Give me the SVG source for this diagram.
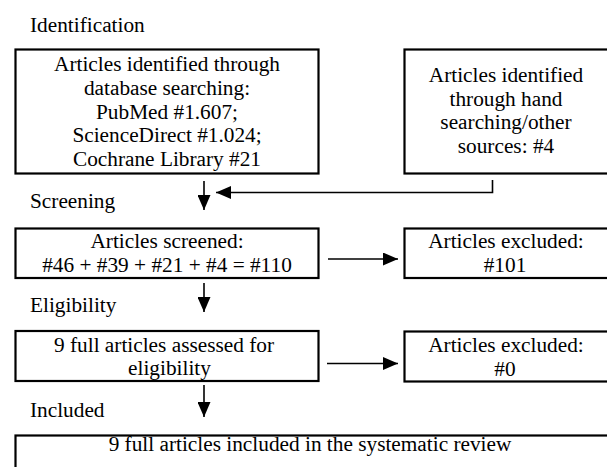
<svg xmlns="http://www.w3.org/2000/svg" width="607" height="467" viewBox="0 0 607 467">
<style>
text{font-family:'Liberation Serif','Times New Roman',Tinos,'DejaVu Serif',serif;font-size:21.3px;fill:#000}
.c{text-anchor:middle}
.box{fill:#fff;stroke:#000;stroke-width:2.2}
.ln{fill:none;stroke:#000;stroke-width:1.6}
</style>
<defs>
<marker id="ah" markerWidth="15" markerHeight="13" refX="15" refY="6.5" orient="auto" markerUnits="userSpaceOnUse">
<path d="M0,0 L15,6.5 L0,13 Z" fill="#000"/>
</marker>
</defs>
<rect width="607" height="467" fill="#fff"/>
<g id="labels" font-family="Liberation Serif, serif">
<text x="30" y="31.5">Identification</text>
<text x="30" y="207.5">Screening</text>
<text x="30" y="312">Eligibility</text>
<text x="30" y="416.5">Included</text>
</g>
<g id="connectors">
<line class="ln" x1="204" y1="181" x2="204" y2="210" marker-end="url(#ah)"/>
<polyline class="ln" points="492.5,180 492.5,192.5 216,192.5" marker-end="url(#ah)"/>
<line class="ln" x1="204" y1="283" x2="204" y2="312" marker-end="url(#ah)"/>
<line class="ln" x1="328" y1="259" x2="398" y2="259" marker-end="url(#ah)"/>
<line class="ln" x1="204" y1="385" x2="204" y2="417" marker-end="url(#ah)"/>
<line class="ln" x1="327" y1="363.5" x2="398" y2="363.5" marker-end="url(#ah)"/>
</g>
<g id="db">
<rect class="box" x="15.5" y="49.5" width="303" height="124"/>
<text class="c" x="167" y="71">Articles identified through</text>
<text class="c" x="167" y="95">database searching:</text>
<text class="c" x="167" y="118.5">PubMed #1.607;</text>
<text class="c" x="167" y="142">ScienceDirect #1.024;</text>
<text class="c" x="167" y="166">Cochrane Library #21</text>
</g>
<g id="hand">
<rect class="box" x="404.5" y="49.5" width="206" height="124"/>
<text class="c" x="506" y="82">Articles identified</text>
<text class="c" x="506" y="105.5">through hand</text>
<text class="c" x="506" y="129">searching/other</text>
<text class="c" x="506" y="153">sources: #4</text>
</g>
<g id="screened">
<rect class="box" x="15.5" y="228.5" width="303" height="49.5"/>
<text class="c" x="167" y="248.3">Articles screened:</text>
<text class="c" x="167" y="271.7">#46 + #39 + #21 + #4 = #110</text>
</g>
<g id="excl1">
<rect class="box" x="404.5" y="228.5" width="206" height="49.5"/>
<text class="c" x="506" y="248.3">Articles excluded:</text>
<text class="c" x="505" y="271.7">#101</text>
</g>
<g id="assessed">
<rect class="box" x="15.5" y="331" width="303" height="50"/>
<text class="c" x="164" y="351.5">9 full articles assessed for</text>
<text class="c" x="169.5" y="375">eligibility</text>
</g>
<g id="excl2">
<rect class="box" x="404.5" y="331.5" width="206" height="50"/>
<text class="c" x="506" y="352">Articles excluded:</text>
<text class="c" x="505" y="375.5">#0</text>
</g>
<g id="included">
<rect class="box" x="15.5" y="435.5" width="595" height="40"/>
<text class="c" x="310" y="450.5">9 full articles included in the systematic review</text>
</g>
</svg>
